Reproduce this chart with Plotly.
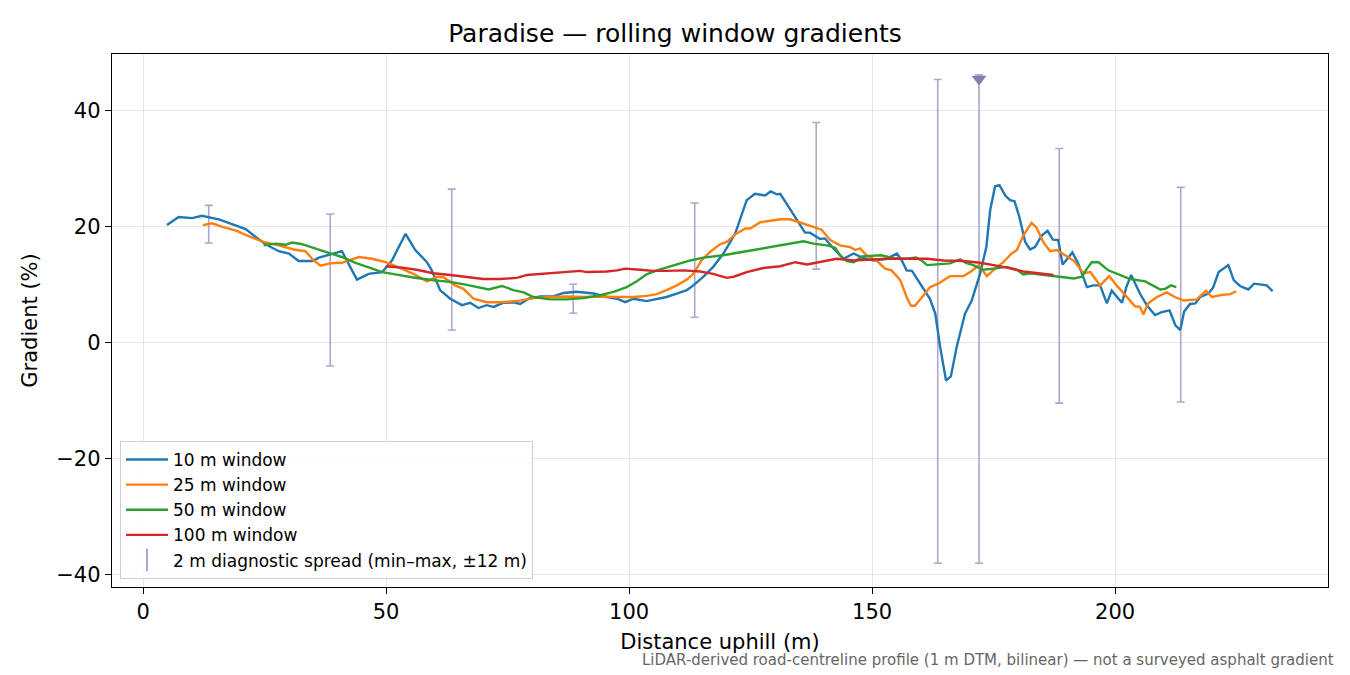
import plotly.graph_objects as go

# ---- data ----
x10 = [4.9,7.3,10.1,12.1,15.6,18.3,21.1,23.1,25.2,27.9,30.0,32.0,34.8,36.2,38.9,40.9,44.0,46.4,49.2,51.2,54.0,56.0,58.4,59.4,61.1,63.2,65.6,67.3,69.0,70.7,72.1,74.1,76.2,77.6,79.3,81.7,84.4,86.5,89.2,92.7,95.4,97.5,99.2,100.9,103.6,105.7,107.7,109.8,111.9,113.2,115.3,117.3,119.4,121.8,123.2,124.2,125.9,128.0,129.1,130.4,131.1,132.4,134.5,136.2,137.2,139.3,140.3,142.0,144.1,146.2,147.9,150.3,153.0,155.1,156.1,157.1,158.2,159.9,161.9,163.0,164.0,165.2,166.2,167.4,169.1,170.5,172.2,173.5,174.3,175.3,176.2,177.4,178.4,179.3,180.3,181.5,182.5,183.5,184.9,186.1,187.2,188.3,189.2,190.1,191.2,192.4,194.2,195.5,196.9,198.3,199.3,201.4,202.3,203.3,205.1,206.5,208.2,209.6,211.2,212.4,213.4,214.2,215.4,216.5,217.5,219.2,220.2,221.3,223.3,224.4,225.7,227.4,228.6,231.2,232.4]
y10 = [20.2,21.6,21.4,21.8,21.2,20.3,19.5,18.2,16.9,15.7,15.3,14.0,14.0,14.6,15.2,15.7,10.8,11.8,12.1,14.1,18.7,15.9,13.8,12.4,9.0,7.5,6.4,6.8,5.9,6.4,6.1,6.8,6.9,6.6,7.5,7.9,7.9,8.5,8.7,8.4,7.8,7.5,6.9,7.5,7.1,7.5,7.8,8.4,9.0,9.8,11.3,13.0,15.3,18.7,22.2,24.5,25.6,25.3,26.0,25.5,25.6,23.9,21.0,18.9,18.9,17.8,17.9,16.2,14.4,15.3,14.6,14.1,14.4,15.3,14.1,12.4,12.3,10.1,7.5,4.9,-0.8,-6.6,-5.9,-0.8,4.9,7.2,11.8,16.4,22.8,26.9,27.1,25.3,24.5,24.3,21.6,17.3,16.0,16.4,18.4,19.2,17.7,17.6,13.4,14.3,15.5,13.6,9.5,9.8,9.8,6.7,8.9,6.8,9.5,11.6,8.4,6.4,4.7,5.2,5.5,2.9,2.1,5.3,6.6,6.7,7.8,8.4,9.5,12.1,13.3,10.7,9.7,9.1,10.1,9.8,8.8]

x25 = [12.3,14.2,16.3,19.0,21.7,24.8,27.9,31.0,33.4,35.1,36.5,38.5,40.9,44.4,47.1,49.9,52.6,55.6,58.4,60.4,61.8,64.2,65.9,68.0,70.7,73.5,76.9,80.3,83.7,87.2,90.6,94.0,97.5,100.9,103.6,105.7,107.7,109.8,111.9,113.2,114.9,116.7,118.7,120.1,121.8,123.9,124.9,127.0,128.7,131.1,133.1,135.5,137.9,139.6,141.4,143.4,145.5,146.5,147.5,148.9,151.0,152.7,154.0,155.8,157.1,158.0,158.8,160.6,161.9,163.6,166.0,168.8,170.5,172.0,173.6,175.3,177.0,178.7,179.8,181.1,182.8,183.8,185.2,186.6,188.0,189.7,191.6,193.5,194.9,196.9,198.8,200.3,202.1,204.1,205.1,205.8,206.8,208.6,210.6,212.3,214.1,216.8,218.7,219.9,222.3,223.7,224.9]
y25 = [20.2,20.5,19.9,19.3,18.3,17.3,16.7,16.0,15.7,14.1,13.2,13.6,13.7,14.7,14.4,13.8,12.9,11.8,10.5,11.3,11.2,9.8,9.2,7.5,6.9,6.9,7.1,7.6,7.8,7.9,7.8,7.9,7.8,7.8,8.0,8.3,9.0,9.8,10.8,11.8,14.1,15.6,16.9,17.3,18.6,19.6,19.6,20.7,20.9,21.2,21.2,20.6,19.9,19.4,17.6,16.7,16.4,15.9,16.2,15.0,14.0,12.7,12.4,10.7,7.8,6.3,6.3,8.1,9.5,10.1,11.4,11.4,12.3,13.3,11.4,12.7,13.8,15.3,15.9,18.4,20.6,19.8,17.3,15.7,15.9,15.0,14.0,11.9,12.1,9.8,11.4,9.8,8.1,6.2,6.1,4.8,6.7,7.8,8.6,7.8,7.2,7.4,8.9,7.8,8.2,8.3,8.8]

x50 = [24.8,27.2,29.3,30.7,32.7,35.5,38.2,40.9,43.7,46.4,49.2,51.9,55.3,59.7,63.2,66.6,69.3,71.1,73.8,76.2,78.3,80.3,83.7,87.2,90.6,94.0,96.8,99.5,101.6,103.6,105.7,107.7,109.8,111.5,112.6,115.3,119.4,123.5,127.6,131.1,133.8,135.9,137.9,140.7,142.4,143.4,144.8,146.2,147.9,150.3,151.9,154.4,157.1,159.0,160.2,161.3,164.0,166.0,168.1,169.3,170.8,172.9,175.0,177.7,179.8,181.1,182.5,184.6,186.6,189.0,191.5,193.2,194.2,195.2,196.6,198.6,200.7,203.1,206.2,207.9,209.3,210.3,211.5,212.6]
y50 = [16.7,17.0,16.8,17.2,16.9,16.2,15.4,14.7,13.7,12.9,12.1,11.7,11.2,10.7,10.4,9.9,9.4,9.1,9.7,9.0,8.6,7.8,7.4,7.4,7.6,8.1,8.7,9.5,10.5,11.7,12.4,12.9,13.3,13.8,14.1,14.6,15.0,15.6,16.2,16.6,17.1,17.4,17.0,16.7,16.3,15.0,14.0,13.8,14.8,14.9,15.0,14.5,14.4,14.6,14.1,13.3,13.4,13.6,14.3,13.7,13.3,12.5,12.7,13.0,12.5,11.7,11.9,11.7,11.4,11.3,11.0,11.3,12.7,13.8,13.8,12.4,11.7,10.9,10.5,9.8,9.1,9.2,9.8,9.5]

x100 = [49.9,52.9,56.3,59.7,63.2,66.6,70.0,73.5,76.9,79.0,81.7,84.4,86.5,89.9,91.3,95.4,97.5,99.2,102.3,105.0,107.7,111.2,114.6,117.3,120.1,121.5,124.2,127.6,131.1,134.2,136.6,139.3,142.7,146.2,149.6,153.0,157.1,161.3,164.7,168.8,172.2,177.0,181.1,184.6,187.3]
y100 = [13.1,12.9,12.5,11.9,11.6,11.2,10.9,10.9,11.1,11.6,11.8,11.9,12.1,12.3,12.1,12.2,12.4,12.7,12.5,12.3,12.3,12.4,12.2,11.8,11.1,11.3,12.1,12.8,13.1,13.8,13.4,13.8,14.4,14.1,14.3,14.4,14.4,14.4,14.1,14.0,13.7,13.0,12.2,11.8,11.6]

# 2 m diagnostic spread (min-max within +-12 m)
spread_x = [13.5, 38.5, 63.5, 88.5, 113.5, 138.5, 163.5, 172.0, 188.5, 213.5]
spread_min = [17.1, -4.1, 2.1, 5.0, 4.3, 12.6, -38.1, -38.1, -10.5, -10.3]
spread_max = [23.6, 22.1, 26.4, 10.0, 24.0, 37.9, 45.3, 46.1, 33.4, 26.7]

# steepest-point marker
peak_x = [172.0]
peak_y = [45.4]

series = [
    ("10 m window", x10, y10, "#1f77b4"),
    ("25 m window", x25, y25, "#ff7f0e"),
    ("50 m window", x50, y50, "#2ca02c"),
    ("100 m window", x100, y100, "#d62728"),
]

FONT = "DejaVu Sans"
SPREAD_COL = "rgba(150,135,190,0.75)"

# page body has an 8 px margin: size the figure so the plot area lands where it should
W, H = 1342, 667

fig = go.Figure()

mid = [(a + b) / 2 for a, b in zip(spread_min, spread_max)]
fig.add_trace(go.Scatter(
    x=spread_x, y=mid, mode="markers",
    marker=dict(size=1, opacity=0),
    error_y=dict(type="data", symmetric=False,
                 array=[b - m for b, m in zip(spread_max, mid)],
                 arrayminus=[m - a for a, m in zip(spread_min, mid)],
                 color=SPREAD_COL, thickness=1.6, width=4),
    showlegend=False, hoverinfo="skip",
))

for name, xs, ys, col in series:
    fig.add_trace(go.Scatter(x=xs, y=ys, mode="lines", name=name,
                             line=dict(color=col, width=2.4)))

fig.add_trace(go.Scatter(
    x=[None], y=[None], mode="markers",
    name="2 m diagnostic spread (min–max, ±12 m)",
    marker=dict(symbol="line-ns-open", size=16, color=SPREAD_COL,
                line=dict(color=SPREAD_COL, width=2)),
))

fig.add_trace(go.Scatter(
    x=peak_x, y=peak_y, mode="markers",
    marker=dict(symbol="triangle-down", size=13, color="#8a7aaa"),
    showlegend=False, hoverinfo="skip",
))

axis_common = dict(
    showline=True, linecolor="black", linewidth=1.4, mirror=True,
    ticks="outside", ticklen=6, tickwidth=1.3, tickcolor="black",
    showgrid=True, gridcolor="#e6e6e6", gridwidth=1,
    zeroline=False,
    tickfont=dict(family=FONT, size=21, color="black"),
)

fig.update_layout(
    width=W, height=H,
    margin=dict(l=104, r=22, t=46, b=88),
    paper_bgcolor="white", plot_bgcolor="white",
    font=dict(family=FONT, color="black"),
    title=dict(text="Paradise — rolling window gradients",
               x=(675 - 8) / W, xanchor="center", xref="container",
               y=1 - 25 / H, yanchor="middle", yref="container",
               font=dict(family=FONT, size=25, color="black")),
    xaxis=dict(range=[-6.4, 243.8], tickvals=[0, 50, 100, 150, 200],
               title=dict(text="Distance uphill (m)", standoff=10,
                          font=dict(family=FONT, size=21)),
               **axis_common),
    yaxis=dict(range=[-42.2, 49.7], tickvals=[-40, -20, 0, 20, 40],
               ticktext=["−40", "−20", "0", "20", "40"],
               title=dict(text="Gradient (%)", standoff=12,
                          font=dict(family=FONT, size=21)),
               **axis_common),
    legend=dict(x=0.0066, y=0.015, xanchor="left", yanchor="bottom",
                bgcolor="rgba(255,255,255,0.85)", bordercolor="#d0d0d0",
                borderwidth=1, font=dict(family=FONT, size=17),
                tracegroupgap=0, itemwidth=42),
    annotations=[dict(
        text="LiDAR-derived road-centreline profile (1 m DTM, bilinear) — not a surveyed asphalt gradient",
        xref="paper", yref="paper", x=(1336 - 112) / 1216, y=(587 - 660) / 533,
        xanchor="right", yanchor="middle", showarrow=False,
        font=dict(family=FONT, size=15, color="#666666"))],
)

fig.write_html("out.html")
